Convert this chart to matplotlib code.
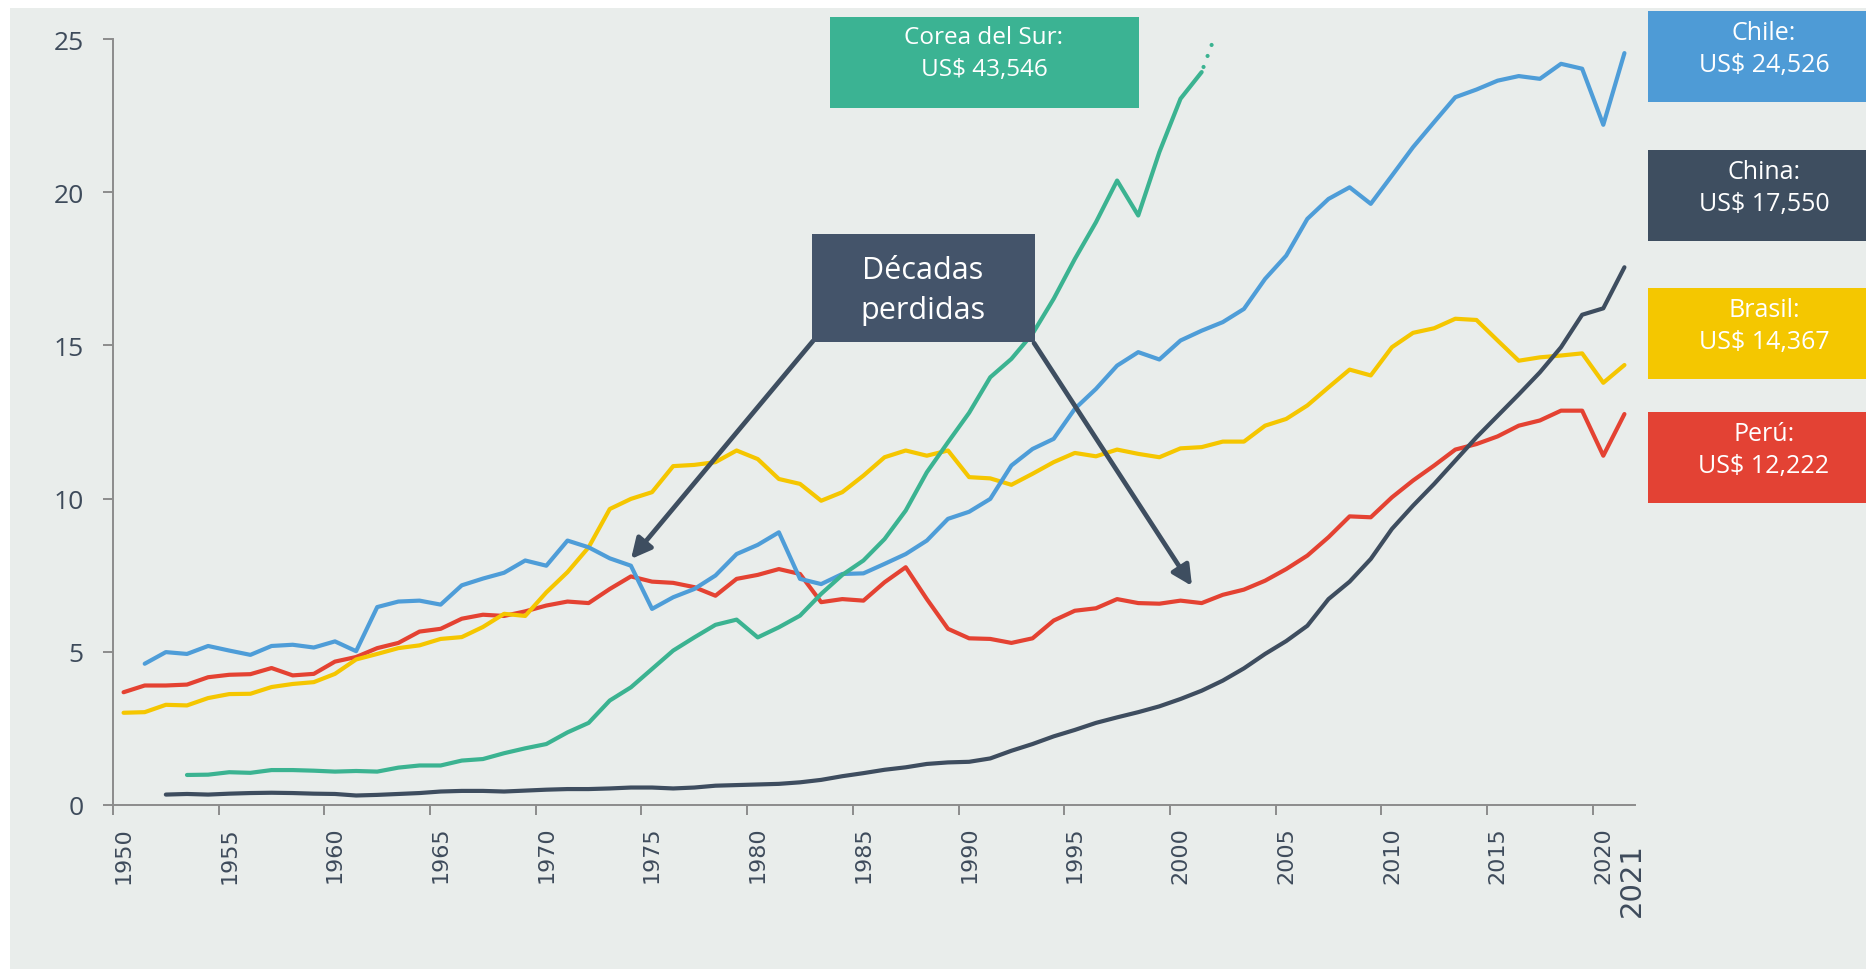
import numpy as np
import matplotlib.pyplot as plt
from matplotlib.patches import Rectangle
from matplotlib.transforms import blended_transform_factory

# PIB per cápita (miles de US$), series
peru_years = np.arange(1950, 2022)
peru = [3.68, 3.90, 3.90, 3.93, 4.17, 4.25, 4.27, 4.47, 4.23, 4.28,
        4.68, 4.83, 5.12, 5.29, 5.66, 5.75, 6.08, 6.21, 6.17, 6.32,
        6.51, 6.64, 6.59, 7.05, 7.46, 7.29, 7.25, 7.11, 6.83, 7.38,
        7.51, 7.70, 7.54, 6.62, 6.72, 6.67, 7.27, 7.76, 6.72, 5.75,
        5.44, 5.42, 5.29, 5.44, 6.02, 6.34, 6.42, 6.72, 6.59, 6.57,
        6.67, 6.59, 6.86, 7.03, 7.32, 7.70, 8.14, 8.74, 9.42, 9.39,
        10.04, 10.59, 11.08, 11.60, 11.78, 12.03, 12.38, 12.55, 12.87, 12.87,
        11.40, 12.76]

brasil_years = np.arange(1950, 2022)
brasil = [3.01, 3.03, 3.27, 3.25, 3.49, 3.62, 3.63, 3.85, 3.95, 4.01,
          4.28, 4.75, 4.93, 5.12, 5.21, 5.42, 5.48, 5.81, 6.24, 6.17,
          6.94, 7.60, 8.41, 9.66, 9.99, 10.21, 11.06, 11.10, 11.19, 11.57,
          11.29, 10.64, 10.48, 9.93, 10.21, 10.75, 11.35, 11.57, 11.40, 11.57,
          10.70, 10.66, 10.45, 10.81, 11.19, 11.49, 11.38, 11.60, 11.46, 11.35,
          11.64, 11.68, 11.86, 11.86, 12.38, 12.60, 13.04, 13.63, 14.21, 14.02,
          14.94, 15.41, 15.56, 15.87, 15.83, 15.16, 14.50, 14.61, 14.67, 14.74,
          13.78, 14.36]

chile_years = np.arange(1951, 2022)
chile = [4.61, 4.99, 4.93, 5.19, 5.04, 4.90, 5.19, 5.23, 5.14,
         5.34, 5.02, 6.46, 6.64, 6.67, 6.54, 7.17, 7.39, 7.58, 7.98,
         7.81, 8.63, 8.41, 8.05, 7.81, 6.40, 6.78, 7.05, 7.49, 8.19,
         8.49, 8.90, 7.38, 7.21, 7.54, 7.56, 7.87, 8.19, 8.63, 9.34,
         9.57, 9.99, 11.08, 11.62, 11.95, 12.93, 13.58, 14.34, 14.78, 14.54,
         15.16, 15.48, 15.76, 16.19, 17.17, 17.93, 19.13, 19.78, 20.16, 19.62,
         20.54, 21.47, 22.29, 23.10, 23.35, 23.64, 23.79, 23.70, 24.19, 24.03,
         22.20, 24.54]

china_years = np.arange(1952, 2022)
china = [0.34, 0.36, 0.34, 0.37, 0.39, 0.40, 0.39, 0.37,
         0.36, 0.31, 0.33, 0.36, 0.39, 0.44, 0.46, 0.46, 0.44, 0.47,
         0.50, 0.52, 0.52, 0.54, 0.57, 0.57, 0.54, 0.57, 0.63, 0.65,
         0.67, 0.69, 0.74, 0.82, 0.94, 1.04, 1.15, 1.23, 1.34, 1.39,
         1.41, 1.52, 1.77, 1.99, 2.24, 2.45, 2.68, 2.86, 3.03, 3.22,
         3.46, 3.73, 4.06, 4.46, 4.93, 5.35, 5.85, 6.72, 7.29, 8.03,
         9.01, 9.77, 10.48, 11.24, 12.00, 12.70, 13.40, 14.12, 14.94, 16.00,
         16.21, 17.55]

corea_years = np.arange(1953, 2002)
corea = [0.98, 0.99, 1.07, 1.05, 1.14, 1.14, 1.12,
         1.09, 1.11, 1.09, 1.22, 1.29, 1.29, 1.45, 1.50, 1.69, 1.85,
         1.99, 2.37, 2.68, 3.41, 3.84, 4.44, 5.04, 5.47, 5.88, 6.05,
         5.47, 5.80, 6.18, 6.89, 7.51, 7.98, 8.68, 9.61, 10.86, 11.84,
         12.80, 13.96, 14.56, 15.38, 16.52, 17.82, 19.02, 20.38, 19.24, 21.31,
         23.05, 23.92]
# tramo punteado que sale de la escala
corea_tail_years = [2001, 2002]
corea_tail = [23.92, 25.8]

etiquetas = [("Chile:\nUS$ 24,526", "#4E9BD6"),
             ("China:\nUS$ 17,550", "#3E4E60"),
             ("Brasil:\nUS$ 14,367", "#F4C700"),
             ("Perú:\nUS$ 12,222", "#E34234")]

c_chile = "#4E9DD8"
c_china = "#3E4D5F"
c_brasil = "#F5C600"
c_peru = "#E44232"
c_corea = "#3BB391"
c_text = "#3E4B5B"
bg = "#E9EDEB"

W, H = 1866, 970
fig = plt.figure(figsize=(W / 100, H / 100), dpi=100, facecolor="white")


def fig_rect(x0, y0, x1, y1, color, z=3):
    # rectángulo en píxeles (origen arriba a la izquierda)
    r = Rectangle((x0 / W, 1 - y1 / H), (x1 - x0) / W, (y1 - y0) / H,
                  transform=fig.transFigure, facecolor=color, edgecolor="none", zorder=z)
    fig.add_artist(r)


fig_rect(10, 9, W, H, bg, z=-10)

ax = fig.add_axes([113 / W, (H - 806) / H, (1635 - 113) / W, 766 / H])
ax.set_facecolor("none")

lw = 3.0
ax.plot(peru_years + 0.5, peru, color=c_peru, lw=lw, solid_capstyle="round", solid_joinstyle="round")
ax.plot(brasil_years + 0.5, brasil, color=c_brasil, lw=lw, solid_capstyle="round", solid_joinstyle="round")
ax.plot(chile_years + 0.5, chile, color=c_chile, lw=lw, solid_capstyle="round", solid_joinstyle="round")
ax.plot(china_years + 0.5, china, color=c_china, lw=lw, solid_capstyle="round", solid_joinstyle="round")
ax.plot(corea_years + 0.5, corea, color=c_corea, lw=lw, solid_capstyle="round", solid_joinstyle="round")
ax.plot(np.array(corea_tail_years) + 0.5, corea_tail, color=c_corea, lw=lw,
        linestyle=(1.5, (0.01, 2.8)), dash_capstyle="round")

ax.set_xlim(1950, 2022)
ax.set_ylim(0, 25)
for s in ["top", "right"]:
    ax.spines[s].set_visible(False)
for s in ["left", "bottom"]:
    ax.spines[s].set_color("#8C8C8C")
    ax.spines[s].set_linewidth(1.4)

ax.set_yticks([0, 5, 10, 15, 20, 25])
ax.set_yticklabels(["0", "5", "10", "15", "20", "25"], family=["Open Sans", "DejaVu Sans"],
                   fontsize=19, color=c_text)
ax.tick_params(axis="y", length=7, width=1.4, color="#8C8C8C", pad=14)

major = np.arange(1950, 2021, 5)
ax.set_xticks(major)
ax.set_xticklabels([])
ax.tick_params(axis="x", which="major", length=7, width=1.4, color="#8C8C8C")
ax.set_xticks(major + 0.5, minor=True)
ax.set_xticklabels([str(y) for y in major], minor=True, rotation=90,
                   fontsize=16, color=c_text)
ax.tick_params(axis="x", which="minor", length=0, pad=15)

trans = blended_transform_factory(ax.transData, ax.transAxes)
ax.text(2021.85, -37 / 766, "2021", transform=trans, rotation=90, ha="center", va="top",
        fontsize=21, color=c_text)

# cajas de la derecha
cajas = [(12, 103), (151, 242), (289, 380), (413, 504)]
for (txt, col), (y0, y1) in zip(etiquetas, cajas):
    fig_rect(1648, y0, W, y1, col)
    fig.text(1764 / W, 1 - (y0 + y1 - 16) / 2 / H, txt, ha="center", va="center", color="white",
             fontsize=18, family="Open Sans", linespacing=1.42, zorder=4)

# caja Corea
fig_rect(830, 18, 1139, 109, "#3BB393")
fig.text(984 / W, 1 - 54 / H, "Corea del Sur:\nUS$ 43,546", ha="center", va="center", color="white",
         fontsize=17.5, family="Open Sans", linespacing=1.45, zorder=4)

# caja Décadas perdidas y flechas
fig_rect(812, 235, 1035, 343, "#44546A")
fig.text(923 / W, 1 - 291 / H, "Décadas\nperdidas", ha="center", va="center", color="white",
         fontsize=22, family="Open Sans", linespacing=1.4, zorder=4)

arrow = dict(arrowstyle="-|>", lw=3.4, color="#3E4E60", mutation_scale=30, shrinkA=0, shrinkB=0)
ax.annotate("", xy=(631, H - 560), xycoords="figure pixels",
            xytext=(813, H - 342), textcoords="figure pixels", arrowprops=arrow, zorder=5)
ax.annotate("", xy=(1192, H - 587), xycoords="figure pixels",
            xytext=(1034, H - 344), textcoords="figure pixels", arrowprops=arrow, zorder=5)

fig.savefig("out.png", dpi=100, facecolor="white")
